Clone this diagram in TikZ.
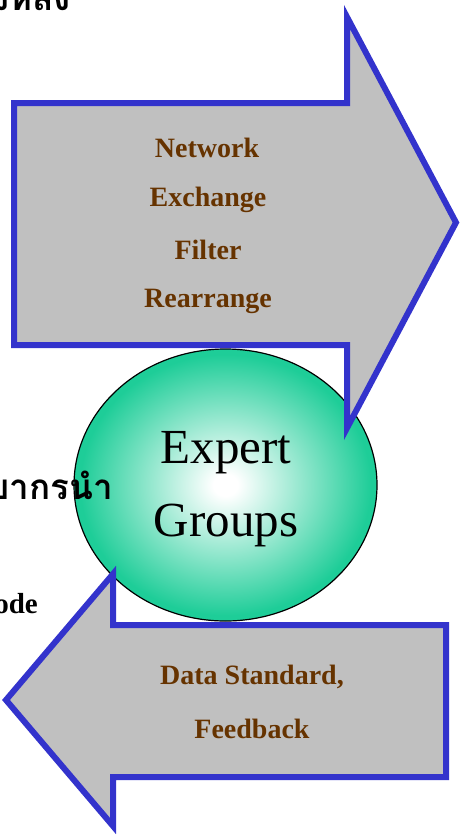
\documentclass[tikz,border=0pt]{standalone}
\usepackage{fontspec}
\setmainfont{Liberation Serif}
\newfontfamily\thaifont[Script=Thai]{Loma}
\definecolor{arrowblue}{RGB}{51,51,204}
\definecolor{arrowgrey}{RGB}{192,192,192}
\definecolor{labelbrown}{RGB}{102,51,0}
\definecolor{ellgreen}{RGB}{30,205,152}
\pgfdeclareradialshading{expertshade}{\pgfpoint{0bp}{0bp}}{color(0bp)=(white); color(2bp)=(white); color(24bp)=(ellgreen); color(50bp)=(ellgreen)}
\tikzset{
  bigarrow/.style={draw=arrowblue, fill=arrowgrey, line width=6pt, line join=miter},
  arrowlabel/.style={text=labelbrown, font=\fontsize{28}{32}\selectfont\bfseries, inner sep=0pt},
  sidetext/.style={font=\fontsize{29}{32}\selectfont\bfseries, inner sep=0pt},
  thaitext/.style={font=\thaifont\fontsize{35}{38}\selectfont\bfseries, inner sep=0pt},
  experttext/.style={font=\fontsize{49}{52}\selectfont, inner sep=0pt}
}
\begin{document}
\begin{tikzpicture}[x=1pt,y=-1pt]
\useasboundingbox (0,0) rectangle (463,839);
\clip (0,0) rectangle (463,839);
% central ellipse
\path[shading=expertshade, draw=black, line width=1.2pt] (225.5,485) ellipse [x radius=151.5, y radius=136];
\coordinate (ec) at (225.5,485);
% top arrow (pointing right)
\draw[bigarrow] (14,103) -- (347,103) -- (347,17) -- (456,222.5) -- (347,428) -- (347,345) -- (14,345) -- cycle;
% bottom arrow (pointing left)
\draw[bigarrow] (113,625) -- (446,625) -- (446,777) -- (113,777) -- (113,826) -- (6,700) -- (113,574) -- cycle;
% labels
\node[arrowlabel] (n1) at (207,148) {Network};
\node[arrowlabel] (n2) at (208,200) {Exchange};
\node[arrowlabel] (n3) at (208,250) {Filter};
\node[arrowlabel] (n4) at (208,301) {Rearrange};
\node[arrowlabel] (d1) at (252,677) {Data Standard,};
\node[arrowlabel] (d2) at (252,729) {Feedback};
\node[experttext] (e1) at (226,453) {Expert};
\node[experttext] (e2) at (226,525) {Groups};
% partially hidden side texts
\node[thaitext, anchor=base east] (t1) at (71,10) {เบื้องหลัง};
\node[thaitext, anchor=base east] (t2) at (113,499) {วิทยากรนำ};
\node[sidetext, anchor=base east] (t3) at (38,613) {Code};
\end{tikzpicture}
\end{document}
